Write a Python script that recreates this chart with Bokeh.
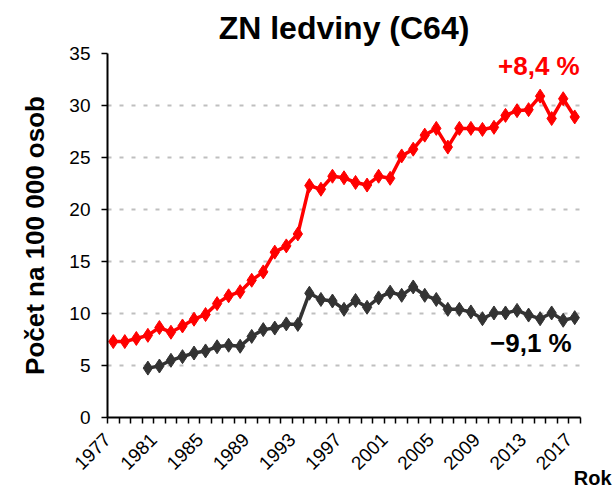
import math
from bokeh.plotting import figure
from bokeh.models import Range1d, FixedTicker, Label, Title
from bokeh.embed import file_html
from bokeh.resources import INLINE

# ---- data ----
years = list(range(1977, 2018))
incidence = [7.3, 7.3, 7.6, 7.9, 8.65, 8.2, 8.8, 9.45, 9.9, 10.95,
             11.7, 12.1, 13.2, 14.0, 15.9, 16.5, 17.65, 22.3, 21.95, 23.2,
             23.05, 22.6, 22.35, 23.2, 23.0, 25.15, 25.8, 27.15, 27.8, 26.0,
             27.8, 27.8, 27.7, 27.9, 29.05, 29.5, 29.6, 30.9, 28.75, 30.65,
             28.9]
mort_years = list(range(1980, 2018))
mortality = [4.75, 4.95, 5.5, 5.85, 6.2, 6.4, 6.8, 6.95, 6.85, 7.8,
             8.45, 8.6, 9.0, 8.95, 11.95, 11.35, 11.2, 10.4, 11.25, 10.6,
             11.5, 12.05, 11.75, 12.55, 11.75, 11.35, 10.4, 10.4, 10.15, 9.5,
             10.05, 10.05, 10.3, 9.85, 9.5, 10.05, 9.35, 9.6]
label_years = list(range(1977, 2018, 4))
y_ticks = [0, 5, 10, 15, 20, 25, 30, 35]
title_text = "ZN ledviny (C64)"
y_label = "Počet na 100 000 osob"
x_label = "Rok"
inc_change = "+8,4 %"
mort_change = "\u22129,1 %"

FONT = "Liberation Sans"
RED = "#ff0000"
DARK = "#333333"

p = figure(width=614, height=487, output_backend="svg", toolbar_location=None,
           x_range=Range1d(years[0] - 0.5, years[-1] + 0.5),
           y_range=Range1d(0, 35),
           min_border_left=107, min_border_right=34,
           min_border_top=53, min_border_bottom=70)
p.outline_line_color = None
p.background_fill_color = "white"
p.border_fill_color = "white"

p.title.text = title_text
p.title.text_font = FONT
p.title.text_font_size = "32px"
p.title.text_font_style = "bold"
p.title.align = "center"
p.title.vertical_align = "top"
p.title.text_color = "black"
p.title.standoff = 11

# grid
p.xgrid.grid_line_color = None
p.ygrid.ticker = FixedTicker(ticks=y_ticks)
p.ygrid.grid_line_color = "#bfbfbf"
p.ygrid.grid_line_width = 2
p.ygrid.grid_line_dash = "4 8"

# x axis: tick marks at category boundaries, labels every 4 years
xa = p.xaxis[0]
xa.ticker = FixedTicker(ticks=[y - 0.5 for y in label_years],
                        minor_ticks=[years[0] - 0.5 + k for k in range(len(years) + 1)])
xa.major_label_overrides = {y - 0.5: str(y) for y in label_years}
xa.major_label_orientation = math.pi / 4
xa.major_tick_line_color = None
xa.minor_tick_line_color = "black"
xa.minor_tick_line_width = 1.5
xa.minor_tick_in = 0
xa.minor_tick_out = 6
xa.axis_line_color = "black"
xa.axis_line_width = 2
xa.major_label_text_font = FONT
xa.major_label_text_font_size = "19px"
xa.major_label_text_color = "black"
xa.major_label_standoff = 13

# y axis
ya = p.yaxis[0]
ya.ticker = FixedTicker(ticks=y_ticks)
ya.major_tick_in = 0
ya.major_tick_out = 6
ya.major_tick_line_width = 1.5
ya.minor_tick_line_color = None
ya.axis_line_color = "black"
ya.axis_line_width = 2
ya.major_label_text_font = FONT
ya.major_label_text_font_size = "19px"
ya.major_label_text_color = "black"
ya.major_label_standoff = 11
ya.axis_label = y_label
ya.axis_label_text_font = FONT
ya.axis_label_text_font_size = "26px"
ya.axis_label_text_font_style = "bold"
ya.axis_label_text_color = "black"
ya.axis_label_standoff = 16

# series
p.line(years, incidence, line_color=RED, line_width=3.5)
p.scatter(years, incidence, marker="diamond", size=14, fill_color=RED, line_color=RED)
p.line(mort_years, mortality, line_color=DARK, line_width=3.5)
p.scatter(mort_years, mortality, marker="diamond", size=14, fill_color=DARK, line_color=DARK)

# annotations
p.add_layout(Label(x=years[-1], y=incidence[-1], text=inc_change, x_offset=5, y_offset=51,
                   text_align="right", text_baseline="alphabetic", text_font=FONT,
                   text_font_size="26px", text_font_style="bold", text_color=RED))
p.add_layout(Label(x=mort_years[-1], y=mortality[-1], text=mort_change, x_offset=-3, y_offset=-25,
                   text_align="right", text_baseline="alphabetic", text_font=FONT,
                   text_font_size="26px", text_font_style="bold", text_color="black"))
# axis name in the lower right corner
p.add_layout(Title(text=x_label, align="right", vertical_align="top", offset=-31, standoff=-24,
                   text_font=FONT, text_font_size="20px", text_font_style="bold",
                   text_color="black"), "below")

open("out.html", "w").write(file_html(p, INLINE))
